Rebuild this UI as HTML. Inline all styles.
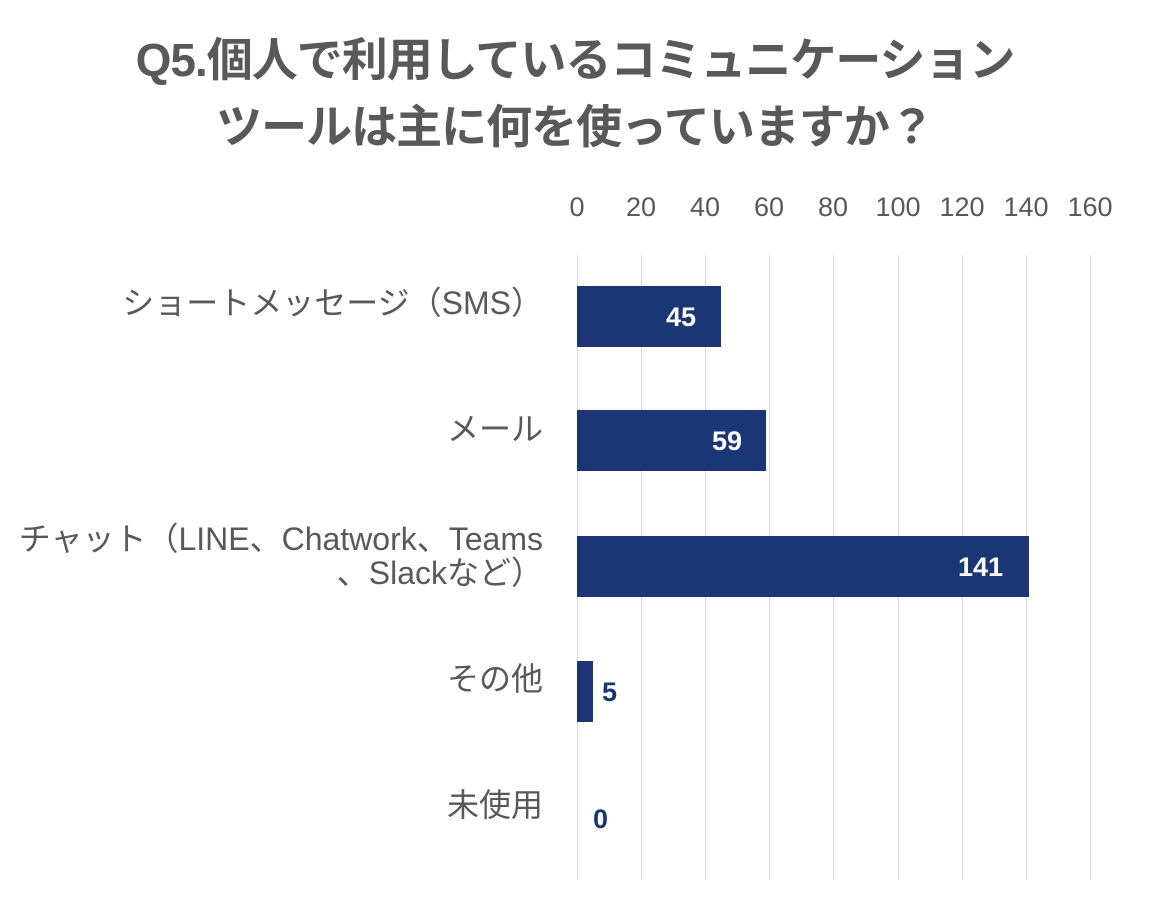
<!DOCTYPE html>
<html><head><meta charset="utf-8"><style>
html,body{margin:0;padding:0;background:#fff;}
body{width:1150px;height:906px;position:relative;overflow:hidden;font-family:"Liberation Sans","Noto Sans CJK JP",sans-serif;color:#595959;}
.t{position:absolute;left:0;width:1150px;text-align:center;font-weight:bold;font-size:46px;letter-spacing:-1px;line-height:50px;}
.tick{position:absolute;top:192px;font-size:27px;width:80px;margin-left:-40px;text-align:center;}
.g{position:absolute;top:255px;height:625px;width:1px;background:#d9d9d9;}
.bar{position:absolute;background:#1a3674;height:61px;left:577px;}
.v{position:absolute;font-weight:bold;font-size:27px;}
.c{position:absolute;right:607px;font-size:32px;text-align:right;line-height:34px;white-space:nowrap;}
</style></head><body>
<div class="t" style="top:35px">Q5.個人で利用しているコミュニケーション</div>
<div class="t" style="top:102px">ツールは主に何を使っていますか？</div>
<div class="tick" style="left:577px">0</div>
<div class="tick" style="left:641px">20</div>
<div class="tick" style="left:705px">40</div>
<div class="tick" style="left:769px">60</div>
<div class="tick" style="left:833px">80</div>
<div class="tick" style="left:898px">100</div>
<div class="tick" style="left:962px">120</div>
<div class="tick" style="left:1026px">140</div>
<div class="tick" style="left:1090px">160</div>
<div class="g" style="left:577px"></div><div class="g" style="left:641px"></div><div class="g" style="left:705px"></div><div class="g" style="left:769px"></div><div class="g" style="left:833px"></div><div class="g" style="left:898px"></div><div class="g" style="left:962px"></div><div class="g" style="left:1026px"></div><div class="g" style="left:1090px"></div>
<div class="bar" style="top:286px;width:144px"></div>
<div class="bar" style="top:410px;width:189px"></div>
<div class="bar" style="top:536px;width:452px"></div>
<div class="bar" style="top:661px;width:16px"></div>
<div class="v" style="color:#fff;top:302px;left:666px">45</div>
<div class="v" style="color:#fff;top:426px;left:712px">59</div>
<div class="v" style="color:#fff;top:552px;left:958px">141</div>
<div class="v" style="color:#1a3674;top:677px;left:602px">5</div>
<div class="v" style="color:#1a3674;top:804px;left:593px">0</div>
<div class="c" style="top:286px">ショートメッセージ（SMS）</div>
<div class="c" style="top:412px">メール</div>
<div class="c" style="top:522px">チャット（LINE、Chatwork、Teams<br>、Slackなど）</div>
<div class="c" style="top:662px">その他</div>
<div class="c" style="top:788px">未使用</div>
</body></html>
